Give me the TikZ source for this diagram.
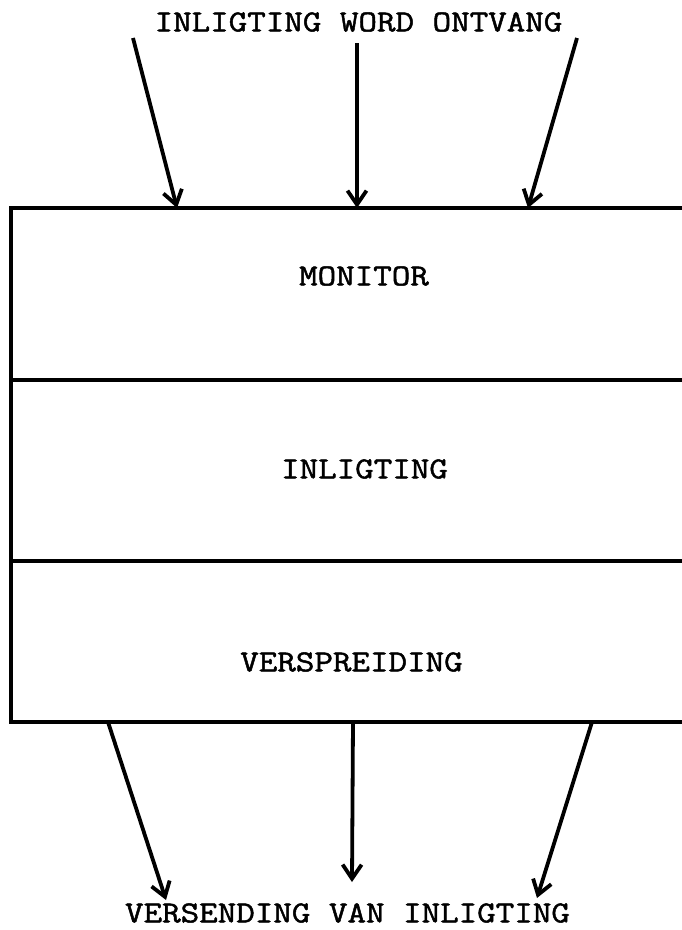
\documentclass[tikz,border=0pt]{standalone}
\usepackage{fontspec}
\setmonofont{Latin Modern Mono}[FakeStretch=1.18,FakeBold=1.6]
\usetikzlibrary{arrows.meta}
\begin{document}
\begin{tikzpicture}[x=1pt,y=-1pt,
  lbl/.style={font=\ttfamily\fontsize{30.5}{30.5}\selectfont, inner sep=0pt},
  frame/.style={line width=3.6pt, line cap=round, line join=miter},
  flow/.style={line width=3.8pt, -{Straight Barb[length=14pt,width=19pt,line width=3.8pt]}}]
\useasboundingbox (0,0) rectangle (682,930);
% frame of the stacked boxes (open on the right)
\draw[frame] (682,208) -- (11,208) -- (11,722) -- (682,722);
\draw[frame] (11,380) -- (682,380);
\draw[frame] (11,561) -- (682,561);
% texts
\node[lbl] (in)  at (358.5,22)  {INLIGTING WORD ONTVANG};
\node[lbl] (mon) at (364,276)   {MONITOR};
\node[lbl] (inl) at (364.5,469) {INLIGTING};
\node[lbl] (ver) at (351.5,662) {VERSPREIDING};
\node[lbl] (out) at (347.5,913) {VERSENDING VAN INLIGTING};
% connector ends
\coordinate (t1s) at (133,38);  \coordinate (t1e) at (177,208);
\coordinate (t2s) at (357,43);  \coordinate (t2e) at (357,208);
\coordinate (t3s) at (577,38);  \coordinate (t3e) at (528,208);
\coordinate (b1s) at (108,722); \coordinate (b1e) at (166,900);
\coordinate (b2s) at (353,722); \coordinate (b2e) at (352,882);
\coordinate (b3s) at (592,722); \coordinate (b3e) at (537,898);
% arrows
\draw[flow] (t1s) -- (t1e);
\draw[flow] (t2s) -- (t2e);
\draw[flow] (t3s) -- (t3e);
\draw[flow] (b1s) -- (b1e);
\draw[flow] (b2s) -- (b2e);
\draw[flow] (b3s) -- (b3e);
\end{tikzpicture}
\end{document}
